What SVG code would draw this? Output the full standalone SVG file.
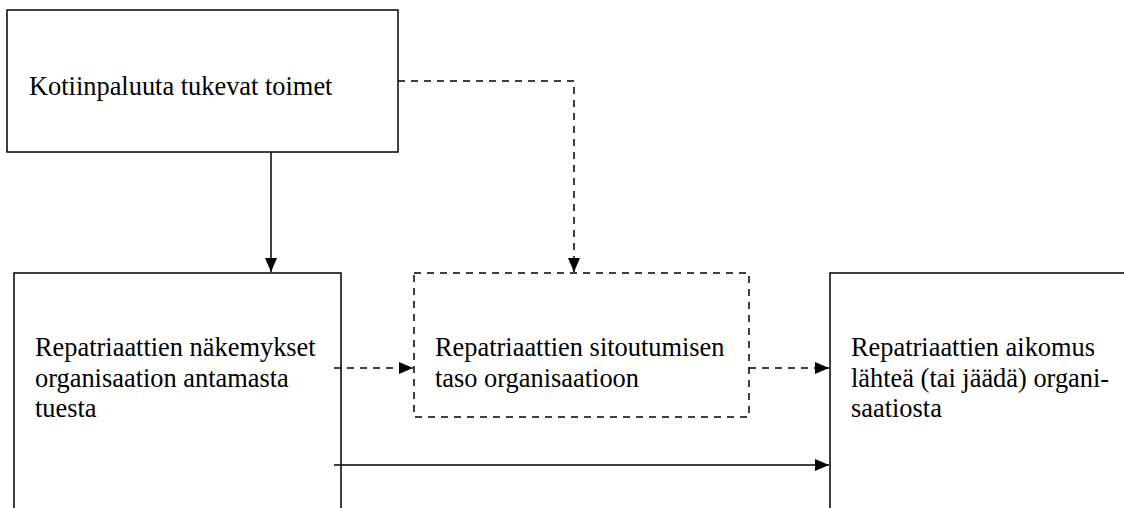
<svg xmlns="http://www.w3.org/2000/svg" width="1124" height="508" viewBox="0 0 1124 508">
  <style>
    .box { fill: #ffffff; stroke: #000000; stroke-width: 1.5; }
    .dbox { fill: #ffffff; stroke: #000000; stroke-width: 1.5; stroke-dasharray: 7 6; }
    .lbl { font-family: "Liberation Serif", "Times New Roman", serif; font-size: 26.4px; fill: #000000; }
    .solid { fill: none; stroke: #000000; stroke-width: 1.5; }
    .dash { fill: none; stroke: #000000; stroke-width: 1.5; stroke-dasharray: 7 6; }
  </style>
  <defs>
    <marker id="arrow" markerUnits="userSpaceOnUse" markerWidth="15" markerHeight="13" refX="14" refY="6" orient="auto">
      <path d="M0,0 L14,6 L0,12 z" fill="#000000"/>
    </marker>
  </defs>
  <rect width="1124" height="508" fill="#ffffff"/>

  <g id="node-kotiinpaluu">
    <rect class="box" x="7" y="10" width="391" height="142"/>
    <text class="lbl" x="29" y="95">Kotiinpaluuta tukevat toimet</text>
  </g>

  <g id="node-nakemykset">
    <rect class="box" x="14" y="273" width="327" height="260"/>
    <text class="lbl" x="35" y="356">Repatriaattien näkemykset</text>
    <text class="lbl" x="35" y="387">organisaation antamasta</text>
    <text class="lbl" x="35" y="417">tuesta</text>
  </g>

  <g id="node-sitoutuminen">
    <rect class="dbox" x="414" y="273" width="335" height="144"/>
    <text class="lbl" x="435" y="356">Repatriaattien sitoutumisen</text>
    <text class="lbl" x="435" y="387">taso organisaatioon</text>
  </g>

  <g id="node-aikomus">
    <rect class="box" x="830" y="273" width="320" height="260"/>
    <text class="lbl" x="851" y="356">Repatriaattien aikomus</text>
    <text class="lbl" x="851" y="387">lähteä (tai jäädä) organi-</text>
    <text class="lbl" x="851" y="417">saatiosta</text>
  </g>

  <g id="connectors">
    <path class="solid" d="M271,152 L271,272" marker-end="url(#arrow)"/>
    <path class="dash" d="M398,81 L574,81 L574,272" marker-end="url(#arrow)"/>
    <path class="dash" d="M334,368 L413,368" marker-end="url(#arrow)"/>
    <path class="dash" d="M749,368 L829,368" marker-end="url(#arrow)"/>
    <path class="solid" d="M334,465 L829,465" marker-end="url(#arrow)"/>
  </g>
</svg>
